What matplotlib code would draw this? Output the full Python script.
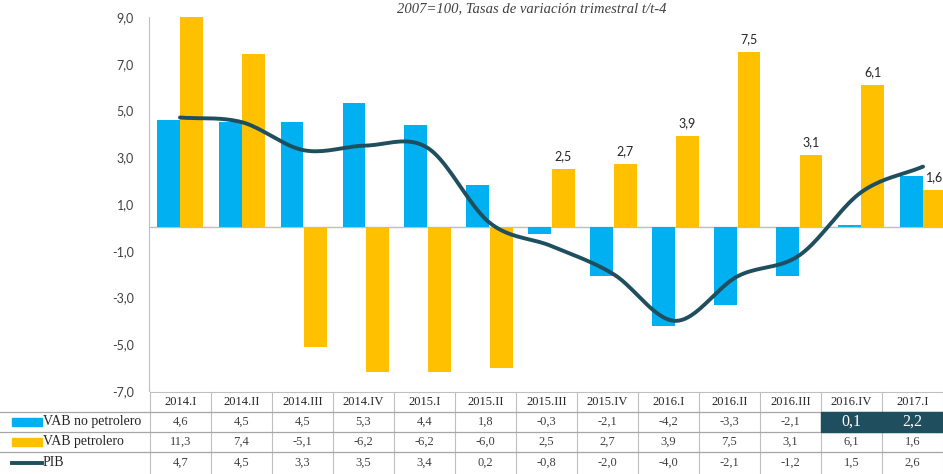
import matplotlib
matplotlib.use("Agg")
import matplotlib.pyplot as plt
from matplotlib.patches import Rectangle
import numpy as np

# data
quarters = ["2014.I", "2014.II", "2014.III", "2014.IV", "2015.I", "2015.II",
            "2015.III", "2015.IV", "2016.I", "2016.II", "2016.III", "2016.IV",
            "2017.I"]
vab_no_pet = [4.6, 4.5, 4.5, 5.3, 4.4, 1.8, -0.3, -2.1, -4.2, -3.3, -2.1, 0.1, 2.2]
vab_pet = [11.3, 7.4, -5.1, -6.2, -6.2, -6.0, 2.5, 2.7, 3.9, 7.5, 3.1, 6.1, 1.6]
pib = [4.7, 4.5, 3.3, 3.5, 3.4, 0.2, -0.8, -2.0, -4.0, -2.1, -1.2, 1.5, 2.6]
yticks = [9, 7, 5, 3, 1, -1, -3, -5, -7]
row_names = ["VAB no petrolero", "VAB petrolero", "PIB"]

BLUE = "#00B0F0"
YELLOW = "#FFC000"
DARK = "#1F4E5F"
GRID = "#BFBFBF"

def fmt(v):
    return "{:.1f}".format(v).replace(".", ",")

def smooth(xs, ys, n=20):
    # catmull-rom curve through the points (like excel smoothed line)
    xs = np.asarray(xs, float)
    ys = np.asarray(ys, float)
    px = np.concatenate([[2 * xs[0] - xs[1]], xs, [2 * xs[-1] - xs[-2]]])
    py = np.concatenate([[2 * ys[0] - ys[1]], ys, [2 * ys[-1] - ys[-2]]])
    ox, oy = [], []
    t = np.linspace(0, 1, n, endpoint=False)
    for i in range(1, len(px) - 2):
        for p, o in ((px, ox), (py, oy)):
            p0, p1, p2, p3 = p[i - 1], p[i], p[i + 1], p[i + 2]
            o.extend(0.5 * ((2 * p1) + (-p0 + p2) * t
                            + (2 * p0 - 5 * p1 + 4 * p2 - p3) * t ** 2
                            + (-p0 + 3 * p1 - 3 * p2 + p3) * t ** 3))
    ox.append(xs[-1])
    oy.append(ys[-1])
    return np.array(ox), np.array(oy)

W, H = 943, 474
fig = plt.figure(figsize=(W / 100, H / 100), dpi=100)

# plot area runs a bit past the right edge (clipped like the original)
left, right, top, bottom = 149, 954, 17, 391
ax = fig.add_axes([left / W, 1 - bottom / H, (right - left) / W, (bottom - top) / H])

x = np.arange(len(quarters))
bw = 0.37
ax.bar(x - 0.19, vab_no_pet, bw, color=BLUE, zorder=2)
ax.bar(x + 0.19, vab_pet, bw, color=YELLOW, zorder=2)
sx, sy = smooth(x, pib)
ax.plot(sx, sy, color=DARK, lw=2.8, zorder=3, solid_capstyle="round")

ax.axhline(0, color=GRID, lw=1, zorder=1)
ax.set_xlim(-0.5, len(quarters) - 0.5)
ax.set_ylim(-7, 9)
ax.set_yticks(yticks)
ax.set_yticklabels([fmt(v) for v in yticks], fontsize=9, color="#404040",
                   family="Lato")
ax.tick_params(axis="y", length=0, pad=11)
ax.set_xticks([])
for s in ["top", "right", "bottom"]:
    ax.spines[s].set_visible(False)
ax.spines["left"].set_color(GRID)

# labels on the positive oil bars from 2015.III on
for i in range(6, len(quarters)):
    v = vab_pet[i]
    ax.text(x[i] + 0.19, v + 0.3, fmt(v), ha="center", va="bottom",
            fontsize=9, color="#262626", family="Lato")

fig.text(532 / W, 1 - 9 / H, "2007=100, Tasas de variación trimestral t/t-4",
         ha="center", va="center", fontsize=10.5, style="italic",
         color="#404040", family="Liberation Serif")

# data table below the chart, in pixel coordinates
tx = fig.add_axes([0, 0, 1, (H - bottom) / H])
tx.set_xlim(0, W)
tx.set_ylim(H, bottom)
tx.axis("off")
tleft, tright = 150, 943
cw = (tright - tleft) / len(quarters)
rows_y = [392, 412, 432, 452, 473]
serif = "Liberation Serif"

for j in range(len(quarters) + 1):
    xx = tleft + j * cw
    tx.plot([xx, xx], [rows_y[0], rows_y[-1]], color=GRID, lw=0.8)
tx.plot([tleft, W], [rows_y[0], rows_y[0]], color=GRID, lw=0.8)
for yy in rows_y[1:4]:
    tx.plot([0, W], [yy, yy], color="#A6A6A6", lw=0.9)

for j, q in enumerate(quarters):
    cx = tleft + (j + 0.5) * cw
    tx.text(cx, (rows_y[0] + rows_y[1]) / 2, q, ha="center", va="center",
            fontsize=9, family=serif, color="#262626")

series = [vab_no_pet, vab_pet, pib]
for r, vals in enumerate(series):
    cy = (rows_y[r + 1] + rows_y[r + 2]) / 2
    for j, v in enumerate(vals):
        cx = tleft + (j + 0.5) * cw
        if r == 0 and j >= len(quarters) - 2:
            tx.add_patch(Rectangle((tleft + j * cw, rows_y[1]), cw,
                                   rows_y[2] - rows_y[1], color=DARK, zorder=3))
            tx.text(cx, cy, fmt(v), ha="center", va="center", fontsize=11.5,
                    family=serif, color="white", zorder=4)
        else:
            tx.text(cx, cy, fmt(v), ha="center", va="center", fontsize=9,
                    family=serif, color="#404040")

# legend keys in the label column
for r, name in enumerate(row_names):
    cy = (rows_y[r + 1] + rows_y[r + 2]) / 2
    if r < 2:
        tx.add_patch(Rectangle((12, cy - 4), 30, 8,
                               color=BLUE if r == 0 else YELLOW))
    else:
        tx.plot([12, 42], [cy, cy], color=DARK, lw=2.8)
    tx.text(43, cy, name, ha="left", va="center", fontsize=10,
            family=serif, color="#262626")

fig.savefig("out.png", dpi=100)
